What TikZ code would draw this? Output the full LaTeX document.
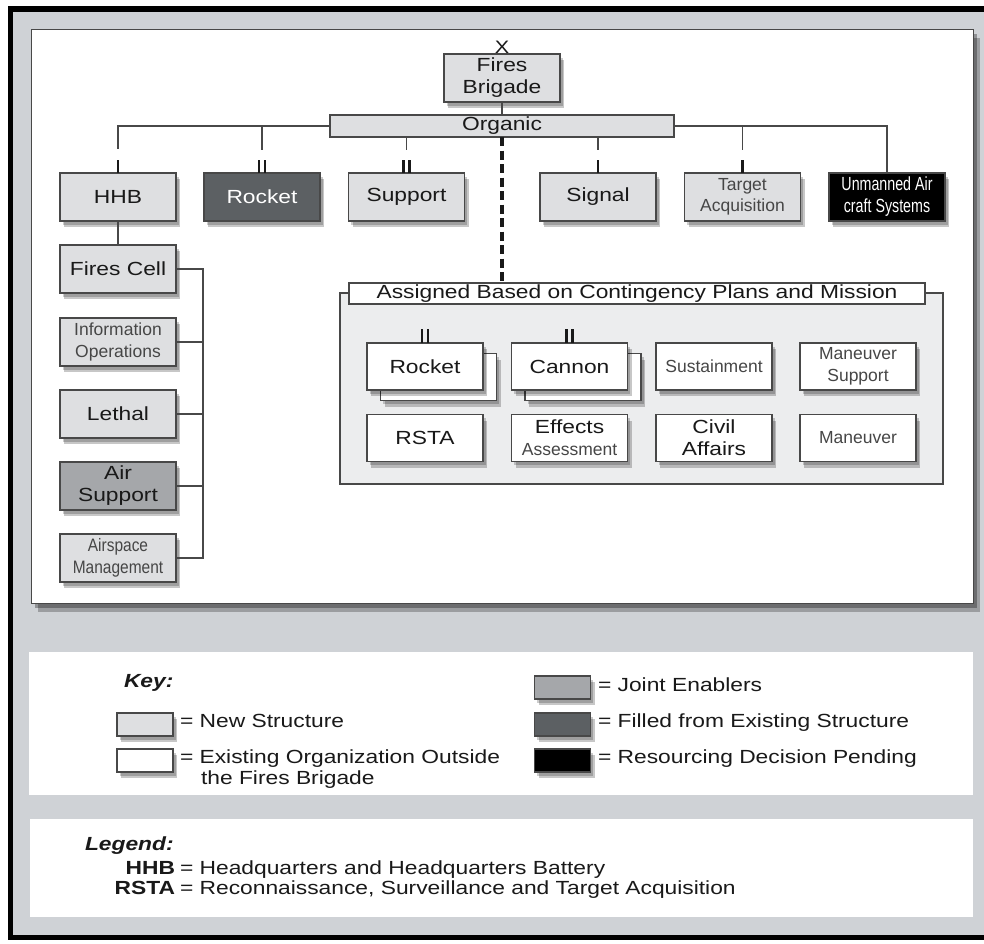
\documentclass[tikz,border=0pt]{standalone}
\usepackage{fontspec}
\setmainfont{Liberation Sans}
\newfontfamily\mf[FakeStretch=1.2]{Liberation Sans}
\newfontfamily\lf{Liberation Sans}
\newfontfamily\nf[FakeStretch=0.86]{Liberation Sans}
\newfontfamily\uf[FakeStretch=0.75]{Liberation Sans}
\usetikzlibrary{shadows}
\definecolor{bggray}{RGB}{207,210,214}
\definecolor{newgray}{RGB}{222,223,225}
\definecolor{jointgray}{RGB}{165,167,170}
\definecolor{filledgray}{RGB}{92,96,99}
\definecolor{contgray}{RGB}{236,237,238}
\definecolor{edge}{RGB}{72,72,72}
\definecolor{ink}{RGB}{25,25,25}
\definecolor{lightink}{RGB}{70,70,70}
\begin{document}
\begin{tikzpicture}[x=1pt,y=-1pt,
  every node/.style={inner sep=0pt, outer sep=0pt},
  shad/.style={drop shadow={shadow xshift=4pt, shadow yshift=-6pt, opacity=0.22, fill=black},
               drop shadow={shadow xshift=2.5pt, shadow yshift=-3.5pt, opacity=0.2, fill=black}},
  unit/.style={draw=edge, line width=1.2pt, minimum width=116pt, minimum height=48pt,
    align=center, text=ink, font=\mf\fontsize{19}{22}\selectfont, shad},
  newu/.style={unit, fill=newgray},
  exist/.style={unit, fill=white, minimum height=47pt},
  light/.style={text=lightink, font=\lf\fontsize{17.5}{21.5}\selectfont},
  narrow/.style={text=lightink, font=\nf\fontsize{18}{22}\selectfont},
  conn/.style={draw=edge, line width=1.3pt},
  tick/.style={draw=ink, line width=2.6pt},
  swatch/.style={draw=edge, line width=1.2pt, minimum width=56pt, minimum height=23pt, shad},
  keytxt/.style={anchor=base west, text=ink, font=\mf\fontsize{19}{21}\selectfont},
  hdr/.style={anchor=base west, text=ink, font=\mf\bfseries\itshape\fontsize{19}{21}\selectfont}
]
\useasboundingbox (0,0) rectangle (984,943);
% background frame
\fill[white] (0,0) rectangle (984,943);
\fill[black] (8,6) rectangle (984,940);
\fill[bggray] (13,12) rectangle (984,935);
% main white panel
\path[fill=white, draw=edge, line width=1pt,
  drop shadow={shadow xshift=7pt, shadow yshift=-9pt, opacity=0.25, fill=black},
  drop shadow={shadow xshift=4pt, shadow yshift=-5pt, opacity=0.3, fill=black}] (31,29) rectangle (973,603);
% key and legend panels
\fill[white] (29,652) rectangle (973,795);
\fill[white] (30,819) rectangle (973,917);

% top
\node[newu] (fb) at (502,78) {Fires\\Brigade};
\node[anchor=south, text=ink, font=\mf\fontsize{18}{18}\selectfont] (xm) at ([yshift=1pt]fb.north) {X};
\node[draw=edge, line width=1.2pt, fill=newgray, minimum width=344pt, minimum height=22pt,
  text=ink, font=\mf\fontsize{19}{21}\selectfont] (org) at (502,126) {Organic};
\draw[conn] (fb.south) -- (org.north);

% first row
\node[newu] (hhb) at (118,197) {HHB};
\node[unit, fill=filledgray, text=white] (rk) at (262,197) {Rocket};
\node[newu] (sup) at (406.5,197) {Support};
\node[newu] (sig) at (598,197) {Signal};
\node[newu, light] (ta) at (742.5,197) {Target\\Acquisition};
\node[unit, fill=black, text=white, font=\uf\fontsize{19}{22}\selectfont] (uas) at (887,197) {Unmanned Air\\craft Systems};

% connectors to first row
\draw[conn] (org.west) -| ([yshift=24pt]hhb.north);
\draw[conn] (rk.north |- org.west) -- ([yshift=23pt]rk.north);
\draw[conn] (sup.north |- org.south) -- ([yshift=23pt]sup.north);
\draw[conn] (sig.north |- org.south) -- ([yshift=23pt]sig.north);
\draw[conn] (org.east) -| (uas.north);
\draw[conn] (ta.north |- org.east) -- ([yshift=23pt]ta.north);
% echelon ticks
\draw[tick] ([yshift=13pt]hhb.north) -- (hhb.north);
\draw[tick] ([xshift=-3pt,yshift=13pt]rk.north) -- ([xshift=-3pt]rk.north);
\draw[tick] ([xshift=3pt,yshift=13pt]rk.north) -- ([xshift=3pt]rk.north);
\draw[tick] ([xshift=-3pt,yshift=13pt]sup.north) -- ([xshift=-3pt]sup.north);
\draw[tick] ([xshift=3pt,yshift=13pt]sup.north) -- ([xshift=3pt]sup.north);
\draw[tick] ([yshift=13pt]sig.north) -- (sig.north);
\draw[tick] ([yshift=13pt]ta.north) -- (ta.north);

% left column
\node[newu] (fc) at (118,269) {Fires Cell};
\node[newu, light] (io) at (118,342) {Information\\Operations};
\node[newu] (le) at (118,414) {Lethal};
\node[unit, fill=jointgray] (as) at (118,486) {Air\\Support};
\node[newu, narrow] (am) at (118,558) {Airspace\\Management};
\draw[conn] (hhb.south) -- (fc.north);
\draw[conn] (fc.east) -- ++(27,0) |- (am.east);
\draw[conn] (io.east) -- ++(27,0);
\draw[conn] (le.east) -- ++(27,0);
\draw[conn] (as.east) -- ++(27,0);

% assigned container
\node[draw=edge, line width=1.2pt, fill=contgray, minimum width=603pt, minimum height=191pt] (cont) at (641.5,388.5) {};
\node[draw=edge, line width=1.2pt, fill=white, minimum width=576pt, minimum height=21pt,
  text=ink, font=\mf\fontsize{19}{21}\selectfont] (asg) at (637,293.5) {Assigned Based on Contingency Plans and Mission};
\draw[line width=3.6pt, draw=ink, dash pattern=on 9pt off 4.5pt] (org.south) -- (org.south |- asg.north);

% assigned units
\node[exist] (rkb) at (438.5,377) {};
\node[exist] (rk2) at (425,366.5) {Rocket};
\node[exist] (cnb) at (583,377) {};
\node[exist] (cn) at (569.5,366.5) {Cannon};
\node[exist, light] (sus) at (714,366.5) {Sustainment};
\node[exist, light] (ms) at (858,366.5) {Maneuver\\Support};
\node[exist] (rsta) at (425,438) {RSTA};
\node[exist] (ea) at (569.5,438) {Effects\\{\lf\fontsize{17.5}{21}\selectfont\color{lightink}Assessment}};
\node[exist] (ca) at (714,438) {Civil\\Affairs};
\node[exist, light] (mv) at (858,438) {Maneuver};
\draw[tick] ([xshift=-3pt,yshift=14pt]rk2.north) -- ([xshift=-3pt]rk2.north);
\draw[tick] ([xshift=3pt,yshift=14pt]rk2.north) -- ([xshift=3pt]rk2.north);
\draw[tick] ([xshift=-3pt,yshift=14pt]cn.north) -- ([xshift=-3pt]cn.north);
\draw[tick] ([xshift=3pt,yshift=14pt]cn.north) -- ([xshift=3pt]cn.north);

% key
\node[hdr] (keyh) at (124,687) {Key:};
\node[swatch, fill=newgray] (kn) at (145,724.5) {};
\node[swatch, fill=white] (ke) at (145,760.5) {};
\node[swatch, fill=jointgray] (kj) at (562.5,687.5) {};
\node[swatch, fill=filledgray] (kf) at (562.5,724.5) {};
\node[swatch, fill=black] (kr) at (562.5,760.5) {};
\node[keytxt] (knt) at (180,727) {= New Structure};
\node[keytxt] (ket) at (180,763) {= Existing Organization Outside};
\node[keytxt] (ket2) at (201,784) {the Fires Brigade};
\node[keytxt] (kjt) at (598,691) {= Joint Enablers};
\node[keytxt] (kft) at (598,727) {= Filled from Existing Structure};
\node[keytxt] (krt) at (598,763) {= Resourcing Decision Pending};

% legend
\node[hdr] (legh) at (85,850) {Legend:};
\node[anchor=base east, text=ink, font=\mf\bfseries\fontsize{19}{21}\selectfont] (lh) at (175,874) {HHB};
\node[keytxt] (lht) at (180,874) {= Headquarters and Headquarters Battery};
\node[anchor=base east, text=ink, font=\mf\bfseries\fontsize{19}{21}\selectfont] (lr) at (175,894) {RSTA};
\node[keytxt] (lrt) at (180,894) {= Reconnaissance, Surveillance and Target Acquisition};
\end{tikzpicture}
\end{document}
